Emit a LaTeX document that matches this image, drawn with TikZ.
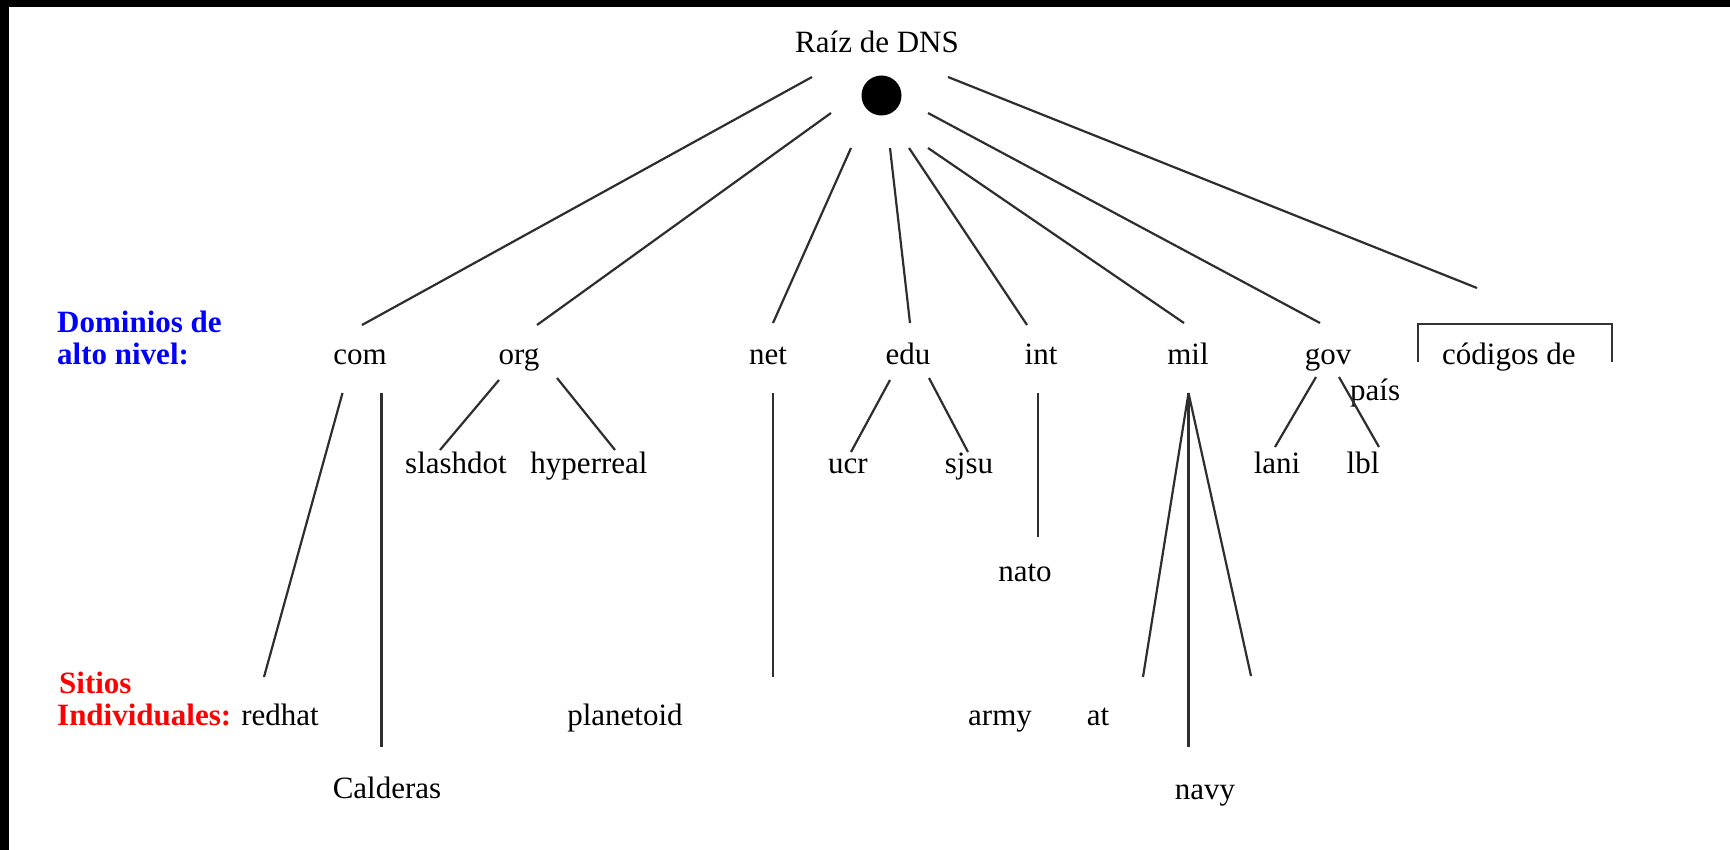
\documentclass[tikz,border=0pt]{standalone}
\usepackage{fontspec}
\setmainfont{Liberation Serif}
\begin{document}
\begin{tikzpicture}[x=1pt,y=-1pt,
  txt/.style={anchor=base,inner sep=0pt,font=\fontsize{31}{36}\selectfont},
  hdr/.style={anchor=base west,inner sep=0pt,font=\bfseries\fontsize{31}{36}\selectfont},
  conn/.style={draw=black!82,line width=2.2pt},
  bracketline/.style={draw=black!80,line width=2.6pt}]
\useasboundingbox (0,0) rectangle (1730,850);
\fill[white] (0,0) rectangle (1730,850);
\fill[black] (0,0) rectangle (1730,7);
\fill[black] (0,0) rectangle (9,850);

% root
\node[txt] (root) at (877,53) {Raíz de DNS};
\node[circle,fill=black,minimum size=40pt,inner sep=0pt] (dot) at (881.5,95.5) {};

% side labels
\node[hdr,text={rgb,255:red,0;green,0;blue,255}] (dom1) at (57,333) {Dominios de};
\node[hdr,text={rgb,255:red,0;green,0;blue,255}] (dom2) at (57,365) {alto nivel:};
\node[hdr,text={rgb,255:red,255;green,0;blue,0}] (sit1) at (59,693) {Sitios};
\node[hdr,text={rgb,255:red,255;green,0;blue,0}] (sit2) at (57,725) {Individuales:};

% top level domains
\node[txt] (com) at (360,365) {com};
\node[txt] (org) at (519,365) {org};
\node[txt] (net) at (768,365) {net};
\node[txt] (edu) at (908,365) {edu};
\node[txt] (int) at (1041,365) {int};
\node[txt] (mil) at (1188,365) {mil};
\node[txt] (gov) at (1328,365) {gov};
\node[txt,anchor=base west] (cod) at (1442,365) {códigos de};
\node[txt,anchor=base west] (pais) at (1350,400) {país};

% second level
\node[txt] (slashdot) at (456,473) {slashdot};
\node[txt] (hyperreal) at (589,473) {hyperreal};
\node[txt] (ucr) at (848,473) {ucr};
\node[txt] (sjsu) at (969,473) {sjsu};
\node[txt] (lani) at (1277,473) {lani};
\node[txt] (lbl) at (1363,473) {lbl};
\node[txt] (nato) at (1025,581) {nato};
\node[txt] (redhat) at (280,725) {redhat};
\node[txt] (planetoid) at (625,725) {planetoid};
\node[txt] (army) at (1000,725) {army};
\node[txt] (at) at (1098,725) {at};
\node[txt] (calderas) at (387,798) {Calderas};
\node[txt] (navy) at (1205,799) {navy};

% connector end points
\coordinate (r1) at (812,77);   \coordinate (t1) at (362,325);
\coordinate (r2) at (831,113);  \coordinate (t2) at (537,325);
\coordinate (r3) at (851,148);  \coordinate (t3) at (773,323);
\coordinate (r4) at (890,148);  \coordinate (t4) at (910,323);
\coordinate (r5) at (909,148);  \coordinate (t5) at (1027,325);
\coordinate (r6) at (928,148);  \coordinate (t6) at (1184,323);
\coordinate (r7) at (928,113);  \coordinate (t7) at (1320,323);
\coordinate (r8) at (948,77);   \coordinate (t8) at (1477,288);

\coordinate (com-a) at (342.5,393); \coordinate (redhat-a) at (264,677);
\coordinate (com-b) at (381.5,393); \coordinate (calderas-a) at (381.5,747);
\coordinate (org-a) at (499,380);   \coordinate (slashdot-a) at (440,450);
\coordinate (org-b) at (557,378);   \coordinate (hyperreal-a) at (615,450);
\coordinate (net-a) at (773,393);   \coordinate (planetoid-a) at (773,677);
\coordinate (edu-a) at (890,380);   \coordinate (ucr-a) at (851,452);
\coordinate (edu-b) at (929,378);   \coordinate (sjsu-a) at (968,452);
\coordinate (int-a) at (1038,393);  \coordinate (nato-a) at (1038,537);
\coordinate (mil-a) at (1188.5,393);
\coordinate (army-a) at (1143,677);
\coordinate (navy-a) at (1188.5,747);
\coordinate (at-a) at (1251,676);
\coordinate (gov-a) at (1316,377);  \coordinate (lani-a) at (1275,447);
\coordinate (gov-b) at (1339,377);  \coordinate (lbl-a) at (1379,447);

% root connectors
\foreach \i in {1,...,8} { \draw[conn] (r\i) -- (t\i); }

% lower connectors
\draw[conn] (com-a) -- (redhat-a);
\draw[conn] (com-b) -- (calderas-a);
\draw[conn] (org-a) -- (slashdot-a);
\draw[conn] (org-b) -- (hyperreal-a);
\draw[conn] (net-a) -- (planetoid-a);
\draw[conn] (edu-a) -- (ucr-a);
\draw[conn] (edu-b) -- (sjsu-a);
\draw[conn] (int-a) -- (nato-a);
\draw[conn] (mil-a) -- (army-a);
\draw[conn] (mil-a) -- (navy-a);
\draw[conn] (mil-a) -- (at-a);
\draw[conn] (gov-a) -- (lani-a);
\draw[conn] (gov-b) -- (lbl-a);

% bracket over country codes
\coordinate (bl) at (1418,362);
\coordinate (tl) at (1418,324);
\coordinate (tr) at (1612,324);
\coordinate (br) at (1612,362);
\draw[bracketline] (bl) -- (tl) -- (tr) -- (br);
\end{tikzpicture}
\end{document}
